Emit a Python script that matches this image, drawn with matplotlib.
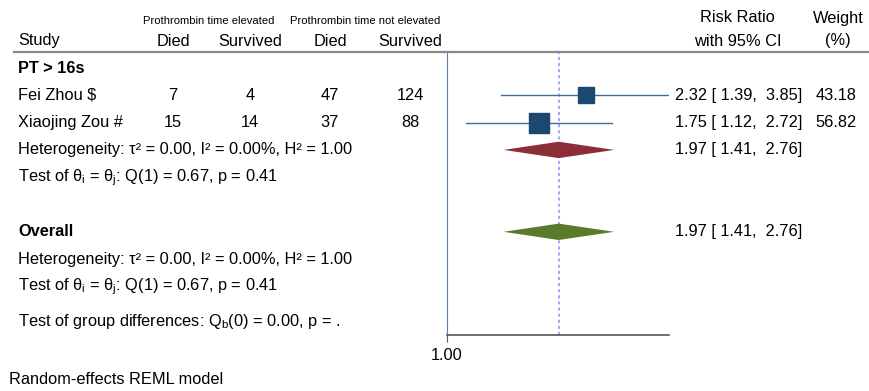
import numpy as np
import matplotlib.pyplot as plt
from matplotlib.lines import Line2D
from matplotlib.patches import Polygon
from matplotlib.transforms import blended_transform_factory

plt.rcParams['font.family'] = ['Liberation Sans', 'DejaVu Sans']
plt.rcParams['mathtext.fontset'] = 'custom'
plt.rcParams['mathtext.rm'] = 'Liberation Sans'
plt.rcParams['mathtext.it'] = 'Liberation Sans:italic'

# data
studies = ["Fei Zhou $", "Xiaojing Zou #"]
died_elev = [7, 15]
surv_elev = [4, 14]
died_not = [47, 37]
surv_not = [124, 88]
rr = [2.32, 1.75]
rr_lo = [1.39, 1.12]
rr_hi = [3.85, 2.72]
weight = [43.18, 56.82]
sub_est = [1.97, 1.41, 2.76]
overall_est = [1.97, 1.41, 2.76]
het_text = "Heterogeneity: τ² = 0.00, I² = 0.00%, H² = 1.00"
test_text = r"Test of θ$_\mathrm{i}$ = θ$_\mathrm{j}$: Q(1) = 0.67, p = 0.41"
group_text = r"Test of group differences: Q$_\mathrm{b}$(0) = 0.00, p = ."

W, H = 870, 391
fig = plt.figure(figsize=(W / 100, H / 100), dpi=100)

# forest panel (pixel box 447..669 x 53..335)
ax = fig.add_axes([447 / W, 1 - 335 / H, (669 - 447) / W, (335 - 53) / H])
ax.set_xscale('log')
ax.set_xlim(1.0, 3.85)
ax.set_ylim(9.78, -0.55)
ax.spines['top'].set_visible(False)
ax.spines['right'].set_visible(False)
ax.spines['left'].set_color('#5b7fa6')
ax.spines['bottom'].set_color('#555555')
ax.spines['bottom'].set_linewidth(1.2)
ax.set_yticks([])
ax.set_xticks([1.0])
ax.set_xticklabels(["1.00"])
ax.xaxis.set_minor_locator(plt.NullLocator())
ax.tick_params(axis='x', length=5, color='#555555', labelsize=11.8, pad=4)

fs = 11.8
tr = blended_transform_factory(fig.transFigure, ax.transData)

def px(x):
    return x / W

# study rows
rows = [1, 2]
for i, y in enumerate(rows):
    ax.plot([rr_lo[i], rr_hi[i]], [y, y], color='#41699a', lw=1, zorder=2)
    ax.plot(rr[i], y, marker='s', ms=1.83 * np.sqrt(weight[i]),
            color='#1c4870', zorder=3)
    ax.text(px(18), y, studies[i], transform=tr, fontsize=fs, va='center', clip_on=False)
    for xc, v in zip([173, 250, 330, 410],
                     [died_elev[i], surv_elev[i], died_not[i], surv_not[i]]):
        ax.text(px(xc), y, str(v), transform=tr, fontsize=fs, ha='center', va='center')
    ax.text(px(675), y, "%.2f [ %.2f,  %.2f]" % (rr[i], rr_lo[i], rr_hi[i]),
            transform=tr, fontsize=fs, va='center')
    ax.text(px(836), y, "%.2f" % weight[i], transform=tr, fontsize=fs,
            ha='center', va='center')

def diamond(est, y, color):
    pts = [(est[1], y), (est[0], y - 0.3), (est[2], y), (est[0], y + 0.3)]
    ax.add_patch(Polygon(pts, closed=True, color=color, zorder=3, lw=0))
    ax.text(px(675), y, "%.2f [ %.2f,  %.2f]" % tuple(est),
            transform=tr, fontsize=fs, va='center')

diamond(sub_est, 3, '#8b2e38')
diamond(overall_est, 6, '#5a7a2c')

ax.axvline(overall_est[0], color='#8c8cff', lw=1.1, ls=(0, (2, 2)), zorder=1)

# left-hand labels
ax.text(px(18), 0, "PT > 16s", transform=tr, fontsize=fs, fontweight='bold', va='center')
ax.text(px(18), 3, het_text, transform=tr, fontsize=fs, va='center')
ax.text(px(18), 4, test_text, transform=tr, fontsize=fs, va='center')
ax.text(px(18), 6, "Overall", transform=tr, fontsize=fs, fontweight='bold', va='center')
ax.text(px(18), 7, het_text, transform=tr, fontsize=fs, va='center')
ax.text(px(18), 8, test_text, transform=tr, fontsize=fs, va='center')
ax.text(px(18), 9.3, group_text, transform=tr, fontsize=fs, va='center')

# header
def ftext(x, y, s, **kw):
    fig.text(x / W, 1 - y / H, s, va='center', **kw)

ftext(209, 21, "Prothrombin time elevated", fontsize=8.1, ha='center')
ftext(365, 21, "Prothrombin time not elevated", fontsize=8.1, ha='center')
ftext(18, 41, "Study", fontsize=fs)
for xc, s in zip([173, 250, 330, 410], ["Died", "Survived", "Died", "Survived"]):
    ftext(xc, 41, s, fontsize=fs, ha='center')
ftext(737, 18, "Risk Ratio", fontsize=fs, ha='center')
ftext(738, 41, "with 95% CI", fontsize=fs, ha='center')
ftext(838, 18, "Weight", fontsize=fs, ha='center')
ftext(838, 41, "(%)", fontsize=fs, ha='center')
fig.add_artist(Line2D([14 / W, 1], [1 - 52 / H, 1 - 52 / H], color='#888888', lw=1.6))

ftext(9, 380, "Random-effects REML model", fontsize=fs)

fig.savefig("out.png", dpi=100)
